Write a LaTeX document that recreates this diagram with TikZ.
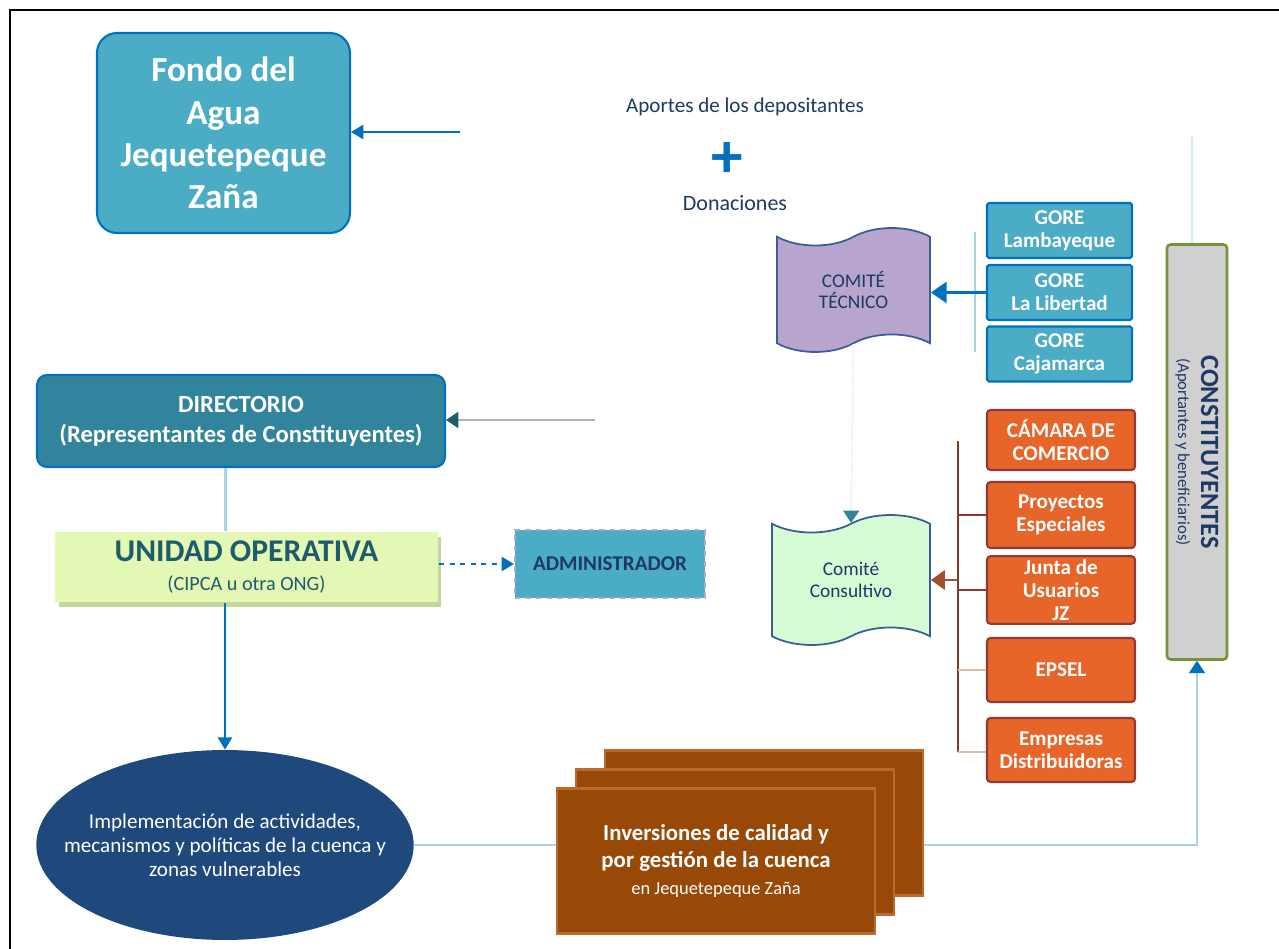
\documentclass[tikz,border=0pt]{standalone}
\usepackage{fontspec}
\setmainfont{Carlito}
\usepackage{graphicx}
\usetikzlibrary{arrows.meta, shapes.symbols, shapes.geometric, shadows, positioning}
\definecolor{fondoblue}{HTML}{4BACC6}
\definecolor{edgeblue}{HTML}{0070C0}
\definecolor{dirteal}{HTML}{31849B}
\definecolor{unifill}{HTML}{E2F8B4}
\definecolor{unitext}{HTML}{1F5C6B}
\definecolor{unishd}{HTML}{C3D69B}
\definecolor{navy}{HTML}{1F3864}
\definecolor{lila}{HTML}{B8A5CE}
\definecolor{mint}{HTML}{D5FCD5}
\definecolor{tapeedge}{HTML}{3A5D96}
\definecolor{orng}{HTML}{E8652A}
\definecolor{orngedge}{HTML}{953735}
\definecolor{cgray}{HTML}{D0D0D0}
\definecolor{cgreen}{HTML}{77933C}
\definecolor{ellnavy}{HTML}{1F497D}
\definecolor{brn}{HTML}{984807}
\definecolor{brnedge}{HTML}{B86A30}
\definecolor{brnline}{HTML}{8B3A2A}
\definecolor{brnarrow}{HTML}{A0522D}
\definecolor{faintblue}{HTML}{A9D3E8}
\definecolor{faintpink}{HTML}{DDBBAA}
\tikzset{
  blk/.style={rectangle, draw, line width=1.2pt, align=center, inner sep=2pt},
  fondo/.style={blk, fill=fondoblue, draw=edgeblue, rounded corners=0.4cm,
                text=white, font=\fontsize{20}{24}\selectfont\bfseries,
                minimum width=5.06cm, minimum height=4.0cm},
  gore/.style={blk, fill=fondoblue, draw=edgeblue, rounded corners=1pt,
               text=white, font=\fontsize{12}{13}\selectfont\bfseries,
               minimum width=2.9cm, minimum height=1.1cm},
  orbox/.style={blk, fill=orng, draw=orngedge, rounded corners=2pt,
                text=white, font=\fontsize{12}{13}\selectfont\bfseries,
                minimum width=2.96cm, minimum height=1.28cm},
  wavy/.style={tape, draw=tapeedge, line width=1pt, align=center,
               text=navy, font=\fontsize{11}{12.5}\selectfont,
               tape bend height=0.35cm},
  brnstack/.style={blk, fill=brn, draw=brnedge, line width=1.5pt,
                   minimum width=6.36cm, minimum height=2.9cm},
  arr/.style={-{Triangle[length=7pt,width=8pt]}, edgeblue, line width=1.4pt},
  bigarr/.style={-{Triangle[length=9pt,width=12pt]}, edgeblue, line width=1.4pt},
  faint/.style={faintblue, line width=1.2pt},
  brnln/.style={brnline, line width=1.6pt},
}
\begin{document}
\begin{tikzpicture}[x=0.02cm, y=-0.02cm]
\useasboundingbox (0,0) rectangle (1279,949);
\draw[line width=1.6pt] (10,949) -- (10,10) -- (1279,10);

% fondo y aportes
\node[fondo] (fondo) at (223.5,133) {Fondo del\\Agua\\Jequetepeque\\Zaña};
\node[font=\fontsize{12}{14}\selectfont, text=navy] (aportes) at (745,107) {Aportes de los depositantes};
\node[font=\fontsize{36}{36}\selectfont\bfseries, text=edgeblue, inner sep=0pt] (plus) at (727,160) {+};
\node[font=\fontsize{12.5}{14}\selectfont, text=navy] (donac) at (735,203) {Donaciones};
\coordinate (apin) at (460,132);
\draw[arr] (apin) -- (fondo.east |- apin);

% comite tecnico y gores
\node[wavy, fill=lila, minimum width=3.06cm, minimum height=2.48cm] (tecnico) at (853.5,290)
  {COMITÉ\\TÉCNICO};
\node[gore] (gore1) at (1059.5,230.5) {GORE\\Lambayeque};
\node[gore] (gore2) at (1059.5,292.5) {GORE\\La Libertad};
\node[gore] (gore3) at (1059.5,354) {GORE\\Cajamarca};
\coordinate (gbtop) at (975,232);
\coordinate (gbbot) at (975,352);
\draw[faint] (gbtop) -- (gbbot);
\draw[edgeblue, line width=1.4pt] (gbtop |- gore2.west) -- (gore2.west);
\draw[bigarr] (gbtop |- gore2.west) -- (tecnico.east |- gore2.west);

% directorio y unidad operativa
\node[blk, fill=dirteal, draw=edgeblue, rounded corners=0.2cm, text=white,
      font=\fontsize{14}{17}\selectfont\bfseries,
      minimum width=8.16cm, minimum height=1.84cm] (directorio) at (241,421)
  {DIRECTORIO\\(Representantes de Constituyentes)};
\coordinate (dirin) at (595,420);
\draw[-{Triangle[length=7pt,width=9pt,color=unitext]}, gray!60, line width=1.4pt]
  (dirin) -- (directorio.east |- dirin);

\node[blk, draw=none, fill=unifill, text=unitext,
      drop shadow={fill=unishd, shadow xshift=2pt, shadow yshift=-3pt, opacity=1},
      minimum width=7.66cm, minimum height=1.4cm] (unidad) at (246.5,567)
  {{\fontsize{18}{20}\selectfont\bfseries UNIDAD OPERATIVA}\\[4pt]
   {\fontsize{11.5}{13}\selectfont (CIPCA u otra ONG)}};
\draw[faint] ([xshift=-0.42cm]unidad.north |- directorio.south) -- ([xshift=-0.42cm]unidad.north);

\node[blk, fill=fondoblue, draw=lila, dashed, text=navy,
      font=\fontsize{12}{14}\selectfont\bfseries,
      minimum width=3.8cm, minimum height=1.36cm] (admin) at (610,564) {ADMINISTRADOR};
\draw[arr, dashed] (unidad.east |- admin.west) -- (admin.west);

% comite consultivo y constituyentes
\node[wavy, fill=mint, minimum width=3.16cm, minimum height=2.6cm] (consultivo) at (851,580)
  {Comité\\Consultivo};
\draw[black!4, line width=1.2pt, -{Triangle[length=7pt,width=9pt,color=dirteal]}]
  (tecnico.south) -- (consultivo.north);

\node[orbox, minimum height=1.2cm] (camara) at (1061,440) {CÁMARA DE\\COMERCIO};
\node[orbox, minimum height=1.32cm] (proyectos) at (1061,515) {Proyectos\\Especiales};
\node[orbox, minimum height=1.32cm] (junta) at (1061,590) {Junta de\\Usuarios\\JZ};
\node[orbox] (epsel) at (1061,670) {EPSEL};
\node[orbox] (empresas) at (1061,750) {Empresas\\Distribuidoras};
\coordinate (bbtop) at (958,441);
\coordinate (bbbot) at (958,752);
\draw[brnln] (bbtop) -- (bbbot);
\draw[brnln] (bbtop |- proyectos.west) -- (proyectos.west);
\draw[brnln] (bbtop |- junta.west) -- (junta.west);
\draw[faintpink, line width=1.6pt] (bbtop |- epsel.west) -- (epsel.west);
\draw[faintpink, line width=1.6pt] (bbbot) -- (bbbot -| empresas.west);
\draw[-{Triangle[length=8pt,width=11pt]}, brnarrow, line width=1.6pt]
  (bbtop |- consultivo.east) -- (consultivo.east);

\node[blk, fill=cgray, draw=cgreen, line width=1.5pt, rounded corners=2pt, text=navy,
      minimum width=1.2cm, minimum height=8.3cm] (constit) at (1197,452)
  {\rotatebox{-90}{\shortstack{{\fontsize{15}{17}\selectfont\bfseries CONSTITUYENTES}\\[3pt]
   {\fontsize{9.5}{11}\selectfont (Aportantes y beneficiarios)}}}};
\coordinate (ctop) at (1192,137);
\draw[faint, faintblue!50] (ctop) -- (ctop |- constit.north);

% resultados
\node[ellipse, fill=ellnavy, text=white, align=center, inner xsep=-0.55cm, inner ysep=0pt,
      font=\fontsize{12}{13.6}\selectfont,
      minimum width=7.52cm, minimum height=3.8cm] (resul) at (225,845)
  {Implementación de actividades,\\mecanismos y políticas de la cuenca y\\zonas vulnerables};
\draw[arr] (resul.north |- unidad.south) -- (resul.north);
\draw[faint, -{Triangle[length=7pt,width=9pt,color=edgeblue]}]
  (resul.east) -- (constit.south |- resul.east) -- (constit.south);

\node[brnstack] (inv3) at (764,823) {};
\node[brnstack] (inv2) at (735,842) {};
\node[brnstack, text=white, font=\fontsize{13}{15.5}\selectfont\bfseries] (inv1) at (716,861)
  {Inversiones de calidad y\\por gestión de la cuenca\\{\fontsize{10.5}{14}\selectfont\mdseries en Jequetepeque Zaña}};
\end{tikzpicture}
\end{document}
